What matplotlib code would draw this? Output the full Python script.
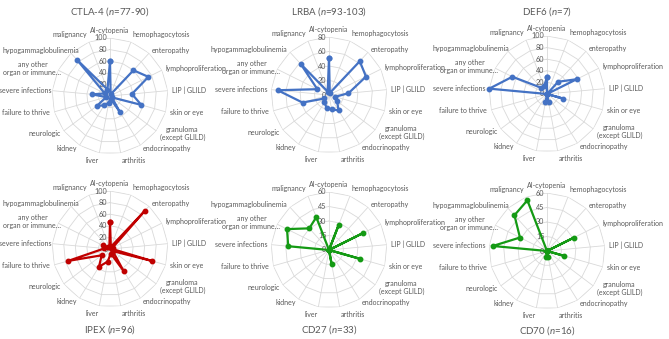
import matplotlib.pyplot as plt
import numpy as np

plt.rcParams["font.family"] = ["Lato", "DejaVu Sans"]
plt.rcParams["mathtext.fontset"] = "custom"
plt.rcParams["mathtext.it"] = "Lato:italic"
plt.rcParams["mathtext.rm"] = "Lato"

CATEGORIES = [
    "AI-cytopenia", "hemophagocytosis", "enteropathy", "lymphoproliferation",
    "LIP | GLILD", "skin or eye", "granuloma\n(except GLILD)", "endocrinopathy",
    "arthritis", "liver", "kidney", "neurologic", "failure to thrive",
    "severe infections", "any other\norgan or immune…", "hypogammaglobulinemia",
    "malignancy",
]

# % of patients with each manifestation
CTLA4 = [60, 3, 60, 74, 38, 56, 4, 32, 5, 12, 19, 28, 7, 31, 10, 85, 12]
LRBA = [51, 3, 63, 57, 27, 9, 14, 25, 20, 18, 12, 8, 38, 71, 18, 58, 5]
DEF6 = [28.6, 0, 28.6, 57.1, 0, 28.6, 0, 0, 14.3, 14.3, 0, 0, 0, 100, 66.7, 14.3, 14.3]
IPEX = [46, 4, 89, 5, 3, 76, 6, 45, 8, 22, 36, 18, 75, 10, 14, 5, 3]
CD27 = [0, 27.3, 0, 39.4, 0, 33.3, 0, 0, 15.2, 0, 0, 0, 0, 42.4, 48.5, 30.3, 36.4]
CD70 = [0, 0, 0, 31.25, 0, 18.75, 0, 0, 6.25, 6.25, 0, 0, 0, 56.25, 31.25, 50, 56.25]

TITLES = ["CTLA-4 ($\\it{n}$=77-90)", "LRBA ($\\it{n}$=93-103)", "DEF6 ($\\it{n}$=7)",
          "IPEX ($\\it{n}$=96)", "CD27 ($\\it{n}$=33)", "CD70 ($\\it{n}$=16)"]
SERIES = [CTLA4, LRBA, DEF6, IPEX, CD27, CD70]
RTICKS = [
    [0, 20, 40, 60, 80, 100],
    [0, 20, 40, 60, 80],
    [0, 20, 40, 60, 80, 100],
    [0, 20, 40, 60, 80, 100],
    [0, 15, 30, 45, 60],
    [0, 15, 30, 45, 60],
]
COLORS = ["#4472C4", "#4472C4", "#4472C4", "#C00000", "#149A14", "#149A14"]

W, H = 669, 339
CENTERS = [(110, 96), (329, 95), (547, 94), (110, 249), (329, 250), (547, 251)]
TITLE_Y = [12, 12, 12, 330, 330, 331]
RPX = 58
TXT = "#595959"
GRID = "#d9d9d9"
FS = 5.0

fig = plt.figure(figsize=(W / 100, H / 100), dpi=100)
fig.patch.set_facecolor("white")

n = len(CATEGORIES)
theta = np.arange(n) * 2 * np.pi / n
theta_c = np.append(theta, theta[0])

for i, vals in enumerate(SERIES):
    cx, cy = CENTERS[i]
    rect = [(cx - RPX) / W, (H - cy - RPX) / H, 2 * RPX / W, 2 * RPX / H]
    ax = fig.add_axes(rect, projection="polar")
    ax.set_theta_zero_location("N")
    ax.set_theta_direction(-1)
    ax.axis("off")
    ticks = RTICKS[i]
    rmax = ticks[-1]
    ax.set_ylim(0, rmax)

    # polygon grid + spokes
    for t in ticks[1:]:
        ax.plot(theta_c, [t] * (n + 1), color=GRID, lw=0.6, zorder=1)
    for th in theta:
        ax.plot([th, th], [0, rmax], color=GRID, lw=0.6, zorder=1)

    for t in ticks:
        ax.annotate(str(t), xy=(0, t), xytext=(-1.8, 0), textcoords="offset points",
                    ha="right", va="center", fontsize=FS + 0.2, color=TXT, zorder=2,
                    annotation_clip=False)

    left_col = cx < 200
    for th, lab in zip(theta, CATEGORIES):
        s, c = np.sin(th), np.cos(th)
        ha = "left" if s > 0.05 else ("right" if s < -0.05 else "center")
        va = "bottom" if c > 0.9 else ("top" if c < -0.9 else "center")
        dx = 0
        if lab.startswith("any other"):
            dx = 5
        elif lab.startswith("hypogamma"):
            dx = 8 if left_col else (3 if cx > 450 else 0)
        elif lab.startswith("severe") and left_col:
            dx = 2.5
        ax.annotate(lab, xy=(th, rmax * 1.07), xytext=(dx, 0), textcoords="offset points",
                    ha=ha, va=va, fontsize=FS, color=TXT, multialignment="center",
                    annotation_clip=False)

    v = list(vals) + [vals[0]]
    ax.plot(theta_c, v, color=COLORS[i], lw=1.6, marker="o", markersize=3.2,
            zorder=3, clip_on=False)

    fig.text(cx / W, 1 - TITLE_Y[i] / H, TITLES[i], ha="center", va="center",
             fontsize=7.0, color=TXT)

fig.savefig("out.png", dpi=100, facecolor="white")
